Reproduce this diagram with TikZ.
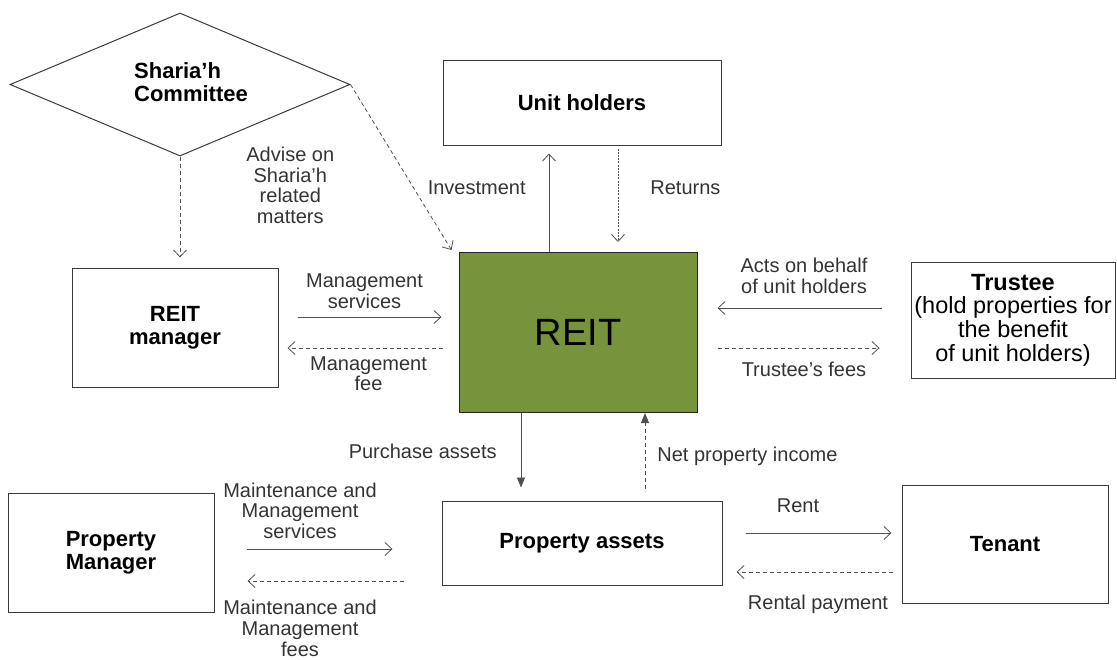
\documentclass[tikz,border=0pt]{standalone}
\usepackage{fontspec}
\setmainfont{Liberation Sans}
\usetikzlibrary{shapes.geometric, arrows.meta, positioning}
\definecolor{reitgreen}{HTML}{77933C}
\definecolor{boxline}{HTML}{3A3A3A}
\definecolor{arrowgray}{HTML}{505050}
\newcommand\lblfont{\fontsize{20}{20.6}\selectfont}
\newcommand\boxfont{\fontsize{22}{23}\selectfont\bfseries}
\newcommand\trustfont{\fontsize{23.5}{23.7}\selectfont}
\newcommand\reitfont{\fontsize{38}{40}\selectfont}

\tikzset{
  party/.style={rectangle, draw=boxline, line width=1pt, text=black,
                font=\boxfont, align=center, inner sep=0pt},
  lbl/.style={font=\lblfont, text=black!80, align=center, inner sep=2pt},
  flow/.style={draw=arrowgray, line width=0.8pt,
               -{Straight Barb[length=7pt,width=13pt]}},
  back/.style={flow, dash pattern=on 4pt off 3pt},
  feed/.style={draw=arrowgray, line width=0.8pt,
               -{Triangle[length=10pt,width=8pt]}}
}

\begin{document}
\begin{tikzpicture}[x=1pt, y=-1pt]
        \useasboundingbox (0,0) rectangle (1117,659);

        % Add the parties
        \node[diamond,
              draw=boxline,
              line width=1pt,
              minimum width=340pt,
              minimum height=143pt,
              inner sep=0pt] (sharia) at (180,84.5) {};
        \node[font=\boxfont, align=left] (shariatext) at (191,82) {Sharia'h\\Committee};
        \node[party,
              minimum width=278pt,
              minimum height=85pt] (holders) at (582,102.5) {Unit holders};
        \node[party,
              fill=reitgreen,
              draw=black!85,
              minimum width=238pt,
              minimum height=160pt,
              font=\reitfont] (reit) at (578,332.5) {REIT};
        \node[party,
              minimum width=206pt,
              minimum height=119pt] (mgr) at (175,327.5) {REIT\\manager};
        \node[party,
              minimum width=204pt,
              minimum height=116pt,
              font=\trustfont] (trustee) at (1013,320) {\textbf{Trustee}\\(hold properties for\\the benefit\\of unit holders)};
        \node[party,
              minimum width=206pt,
              minimum height=119pt] (pmgr) at (111,552.5) {Property\\Manager};
        \node[party,
              minimum width=280pt,
              minimum height=84pt] (assets) at (582,543) {Property assets};
        \node[party,
              minimum width=206pt,
              minimum height=118pt] (tenant) at (1005,544) {Tenant};

        % Connect the parties with arrows
        \draw[back] (sharia.east) -- ([xshift=-7pt,yshift=2pt]reit.north west);
        \draw[back, shorten >=10pt] (sharia.south) -- (sharia.south |- mgr.north)
            node[lbl, pos=.26, right=64pt] {Advise on\\Sharia'h\\related\\matters};

        \draw[flow, shorten >=8pt] ([xshift=-29pt]reit.north) -- ([xshift=-33pt]holders.south)
            node[lbl, pos=.6, left=21pt] {Investment};
        \draw[back, dash pattern=on 2pt off 1.2pt, shorten <=3pt, shorten >=10pt]
            ([xshift=36pt]holders.south) -- ([xshift=40pt]reit.north)
            node[lbl, pos=.4, right=30pt] {Returns};

        \draw[flow, shorten <=19pt, shorten >=17pt] (mgr.east |- 0,317) -- (reit.west |- 0,317)
            node[lbl, midway, above=6pt, xshift=-4pt] {Management\\services};
        \draw[back, shorten <=16pt, shorten >=9pt] (reit.west |- 0,348) -- (mgr.east |- 0,348)
            node[lbl, midway, below=6pt] {Management\\fee};

        \draw[flow, shorten <=29pt, shorten >=20pt] (trustee.west |- 0,308) -- (reit.east |- 0,308)
            node[lbl, midway, above=12pt] {Acts on behalf\\of unit holders};
        \draw[back, shorten <=20pt, shorten >=31pt] (reit.east |- 0,348) -- (trustee.west |- 0,348)
            node[lbl, midway, below=12pt] {Trustee's fees};

        \draw[feed, shorten >=13pt] ([xshift=-57pt]reit.south) -- ([xshift=-61pt]assets.north)
            node[lbl, pos=.44, left=22pt] {Purchase assets};
        \draw[feed, dash pattern=on 4pt off 3pt, shorten <=12pt] ([xshift=63pt]assets.north) -- ([xshift=67pt]reit.south)
            node[lbl, midway, right=10pt] {Net property income};

        \draw[flow, shorten <=32pt, shorten >=49pt] (pmgr.east |- 0,549) -- (assets.west |- 0,549)
            node[lbl, midway, above=8pt, xshift=-28pt] {Maintenance and\\Management\\services};
        \draw[back, shorten <=38pt, shorten >=33pt] (assets.west |- 0,581) -- (pmgr.east |- 0,581)
            node[lbl, midway, below=17pt, xshift=-28pt] {Maintenance and\\Management\\fees};

        \draw[flow, shorten <=23pt, shorten >=10pt] (assets.east |- 0,533) -- (tenant.west |- 0,533)
            node[lbl, midway, above=18pt, xshift=-14pt] {Rent};
        \draw[back, shorten <=9pt, shorten >=14pt] (tenant.west |- 0,572) -- (assets.east |- 0,572)
            node[lbl, midway, below=21pt, xshift=6pt] {Rental payment};
    \end{tikzpicture}
\end{document}
